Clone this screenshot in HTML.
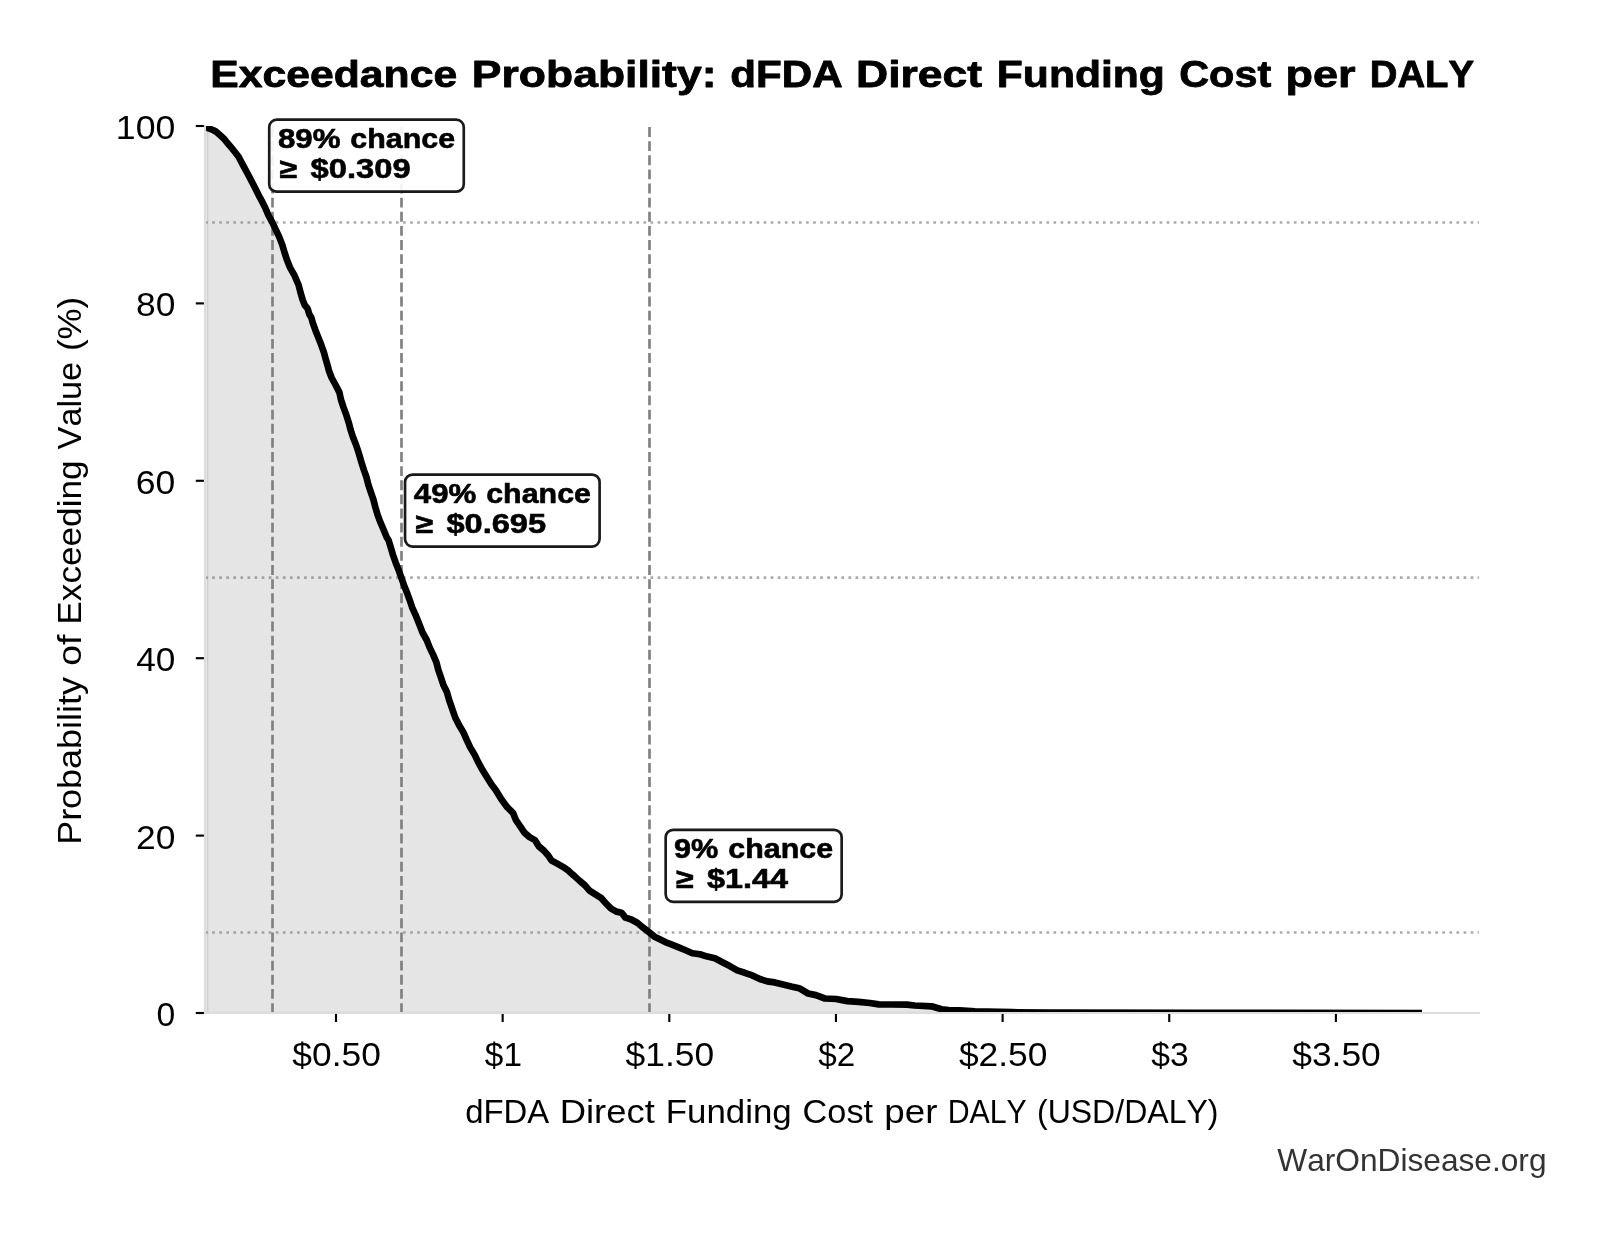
<!DOCTYPE html>
<html lang="en"><head><meta charset="utf-8"><title>Exceedance Probability: dFDA Direct Funding Cost per DALY</title>
<style>html,body{margin:0;padding:0;background:#fff;}body{width:1604px;height:1234px;overflow:hidden;}svg{display:block;will-change:transform;}text{font-family:"Liberation Sans",sans-serif;font-kerning:none;white-space:pre;}</style></head><body>
<svg width="1604" height="1234" viewBox="0 0 1604 1234">
<rect x="0" y="0" width="1604" height="1234" fill="#ffffff"/>
<defs><clipPath id="ax"><rect x="205.0" y="126.0" width="1273.90" height="887.00"/></clipPath></defs>
<g clip-path="url(#ax)">
<polygon points="207.1,1013.0 207.1,127.8 208.5,128.3 211.0,129.2 213.5,130.3 216.2,131.8 219.9,135.0 223.7,138.4 227.4,143.0 231.2,147.4 234.9,152.0 238.6,156.8 241.2,161.8 244.9,168.6 248.6,175.5 252.4,182.7 256.1,190.0 259.8,197.4 261.3,200.0 265.1,207.5 268.3,215.0 272.3,222.4 275.9,229.9 279.4,237.4 282.3,244.9 284.5,252.4 286.9,259.8 289.9,267.3 294.2,274.8 297.4,282.3 298.6,285.0 300.5,292.5 302.7,300.0 304.8,305.2 307.6,308.6 309.3,314.2 311.4,317.7 312.7,322.6 315.3,329.9 318.3,337.4 321.2,344.8 323.9,352.3 325.9,359.8 328.1,367.3 328.7,370.0 331.5,377.5 335.6,385.0 339.4,392.4 341.0,399.9 343.5,407.4 346.3,414.9 348.7,422.4 350.6,429.8 353.0,437.3 356.0,444.8 358.5,452.3 359.3,455.0 361.5,462.5 363.9,470.0 366.5,477.4 368.4,484.9 370.9,492.4 373.5,499.9 375.4,507.4 377.6,514.8 380.4,522.3 383.6,529.8 386.7,537.3 388.5,540.0 390.8,547.5 393.0,555.0 395.6,562.4 398.6,569.9 401.2,577.4 403.9,584.9 406.9,592.4 409.6,599.8 412.1,607.3 415.5,614.8 418.5,622.3 419.6,625.0 422.5,632.5 426.7,640.0 429.6,647.4 433.2,654.9 436.4,662.4 438.3,669.9 440.9,677.4 443.3,684.8 447.0,692.3 449.1,699.8 451.7,707.3 452.6,710.0 455.2,717.5 459.0,725.0 463.4,732.4 466.7,739.9 470.2,747.4 474.7,754.9 478.3,762.4 482.4,769.8 487.0,777.3 491.7,784.8 495.7,790.0 501.2,799.0 507.2,807.2 513.2,813.2 515.8,819.9 519.9,825.9 524.4,832.6 529.6,837.1 534.9,840.1 538.6,846.1 543.9,850.6 548.4,855.8 551.3,860.3 557.3,863.7 563.3,867.1 568.6,870.8 570.0,872.2 574.5,876.1 579.7,880.9 585.0,885.4 589.5,890.7 595.4,894.4 601.4,898.2 605.9,903.4 611.1,908.6 616.4,911.6 621.6,912.7 625.4,917.6 631.3,919.5 637.3,922.8 642.6,927.3 648.6,931.8 654.5,936.7 659.8,939.3 665.8,942.3 670.0,943.8 677.5,946.8 685.0,950.0 692.4,953.3 699.9,954.3 707.4,956.6 714.9,958.3 722.4,962.3 729.8,966.1 737.3,970.4 744.8,972.8 752.3,975.4 759.8,979.0 767.3,981.4 774.7,982.4 780.0,983.7 791.2,986.5 799.1,988.2 808.1,993.5 815.9,995.1 824.9,998.5 836.1,999.0 847.3,1001.1 858.6,1001.8 869.8,1003.0 878.8,1004.4 892.2,1004.5 906.8,1004.7 914.7,1005.5 931.5,1006.3 941.6,1009.3 948.5,1010.0 959.6,1010.3 975.0,1011.3 1012.0,1012.2 1050.0,1012.6 1200.0,1012.9 1422.0,1013.1 1422.0,1013.0" fill="#000" fill-opacity="0.1" stroke="#000" stroke-opacity="0.1" stroke-width="2.67" stroke-linejoin="miter"/>
<line x1="205.1" y1="222.5" x2="1478.9" y2="222.5" stroke="#808080" stroke-opacity="0.67" stroke-width="2.67" stroke-dasharray="2.67 4.4"/>
<line x1="205.1" y1="577.6" x2="1478.9" y2="577.6" stroke="#808080" stroke-opacity="0.67" stroke-width="2.67" stroke-dasharray="2.67 4.4"/>
<line x1="205.1" y1="932.5" x2="1478.9" y2="932.5" stroke="#808080" stroke-opacity="0.67" stroke-width="2.67" stroke-dasharray="2.67 4.4"/>
<line x1="272.5" y1="1013.0" x2="272.5" y2="126.0" stroke="#808080" stroke-width="2.67" stroke-dasharray="9.865 4.266"/>
<line x1="401.5" y1="1013.0" x2="401.5" y2="126.0" stroke="#808080" stroke-width="2.67" stroke-dasharray="9.865 4.266"/>
<line x1="649.5" y1="1013.0" x2="649.5" y2="126.0" stroke="#808080" stroke-width="2.67" stroke-dasharray="9.865 4.266"/>
<polyline points="203.0,127.2 206.0,127.4 208.5,128.3 211.0,129.2 213.5,130.3 216.2,131.8 219.9,135.0 223.7,138.4 227.4,143.0 231.2,147.4 234.9,152.0 238.6,156.8 241.2,161.8 244.9,168.6 248.6,175.5 252.4,182.7 256.1,190.0 259.8,197.4 261.3,200.0 265.1,207.5 268.3,215.0 272.3,222.4 275.9,229.9 279.4,237.4 282.3,244.9 284.5,252.4 286.9,259.8 289.9,267.3 294.2,274.8 297.4,282.3 298.6,285.0 300.5,292.5 302.7,300.0 304.8,305.2 307.6,308.6 309.3,314.2 311.4,317.7 312.7,322.6 315.3,329.9 318.3,337.4 321.2,344.8 323.9,352.3 325.9,359.8 328.1,367.3 328.7,370.0 331.5,377.5 335.6,385.0 339.4,392.4 341.0,399.9 343.5,407.4 346.3,414.9 348.7,422.4 350.6,429.8 353.0,437.3 356.0,444.8 358.5,452.3 359.3,455.0 361.5,462.5 363.9,470.0 366.5,477.4 368.4,484.9 370.9,492.4 373.5,499.9 375.4,507.4 377.6,514.8 380.4,522.3 383.6,529.8 386.7,537.3 388.5,540.0 390.8,547.5 393.0,555.0 395.6,562.4 398.6,569.9 401.2,577.4 403.9,584.9 406.9,592.4 409.6,599.8 412.1,607.3 415.5,614.8 418.5,622.3 419.6,625.0 422.5,632.5 426.7,640.0 429.6,647.4 433.2,654.9 436.4,662.4 438.3,669.9 440.9,677.4 443.3,684.8 447.0,692.3 449.1,699.8 451.7,707.3 452.6,710.0 455.2,717.5 459.0,725.0 463.4,732.4 466.7,739.9 470.2,747.4 474.7,754.9 478.3,762.4 482.4,769.8 487.0,777.3 491.7,784.8 495.7,790.0 501.2,799.0 507.2,807.2 513.2,813.2 515.8,819.9 519.9,825.9 524.4,832.6 529.6,837.1 534.9,840.1 538.6,846.1 543.9,850.6 548.4,855.8 551.3,860.3 557.3,863.7 563.3,867.1 568.6,870.8 570.0,872.2 574.5,876.1 579.7,880.9 585.0,885.4 589.5,890.7 595.4,894.4 601.4,898.2 605.9,903.4 611.1,908.6 616.4,911.6 621.6,912.7 625.4,917.6 631.3,919.5 637.3,922.8 642.6,927.3 648.6,931.8 654.5,936.7 659.8,939.3 665.8,942.3 670.0,943.8 677.5,946.8 685.0,950.0 692.4,953.3 699.9,954.3 707.4,956.6 714.9,958.3 722.4,962.3 729.8,966.1 737.3,970.4 744.8,972.8 752.3,975.4 759.8,979.0 767.3,981.4 774.7,982.4 780.0,983.7 791.2,986.5 799.1,988.2 808.1,993.5 815.9,995.1 824.9,998.5 836.1,999.0 847.3,1001.1 858.6,1001.8 869.8,1003.0 878.8,1004.4 892.2,1004.5 906.8,1004.7 914.7,1005.5 931.5,1006.3 941.6,1009.3 948.5,1010.0 959.6,1010.3 975.0,1011.3 1012.0,1012.2 1050.0,1012.6 1200.0,1012.9 1422.0,1013.1" fill="none" stroke="#000" stroke-width="6.7" stroke-linejoin="round" stroke-linecap="butt"/>
</g>
<line x1="205.0" y1="124.93" x2="205.0" y2="1014.07" stroke="#dddddd" stroke-width="2.13"/>
<line x1="203.93" y1="1013.0" x2="1479.97" y2="1013.0" stroke="#dddddd" stroke-width="2.13"/>
<line x1="336.0" y1="1014.0" x2="336.0" y2="1022.0" stroke="#000" stroke-width="2.13"/>
<line x1="502.65" y1="1014.0" x2="502.65" y2="1022.0" stroke="#000" stroke-width="2.13"/>
<line x1="669.3" y1="1014.0" x2="669.3" y2="1022.0" stroke="#000" stroke-width="2.13"/>
<line x1="835.95" y1="1014.0" x2="835.95" y2="1022.0" stroke="#000" stroke-width="2.13"/>
<line x1="1002.6" y1="1014.0" x2="1002.6" y2="1022.0" stroke="#000" stroke-width="2.13"/>
<line x1="1169.25" y1="1014.0" x2="1169.25" y2="1022.0" stroke="#000" stroke-width="2.13"/>
<line x1="1335.9" y1="1014.0" x2="1335.9" y2="1022.0" stroke="#000" stroke-width="2.13"/>
<line x1="195.8" y1="1013.0" x2="203.9" y2="1013.0" stroke="#000" stroke-width="2.13"/>
<line x1="195.8" y1="835.6" x2="203.9" y2="835.6" stroke="#000" stroke-width="2.13"/>
<line x1="195.8" y1="658.2" x2="203.9" y2="658.2" stroke="#000" stroke-width="2.13"/>
<line x1="195.8" y1="480.8" x2="203.9" y2="480.8" stroke="#000" stroke-width="2.13"/>
<line x1="195.8" y1="303.4" x2="203.9" y2="303.4" stroke="#000" stroke-width="2.13"/>
<line x1="195.8" y1="126.0" x2="203.9" y2="126.0" stroke="#000" stroke-width="2.13"/>
<g font-size="34.1" font-weight="normal" fill="#000" aria-label="$0.50"><text transform="translate(292.31,1065.80) scale(1.0382,1)">$0.50</text></g>
<g font-size="34.1" font-weight="normal" fill="#000" aria-label="$1"><text transform="translate(484.84,1065.80) scale(0.9780,1)">$1</text></g>
<g font-size="34.1" font-weight="normal" fill="#000" aria-label="$1.50"><text transform="translate(625.61,1065.80) scale(1.0382,1)">$1.50</text></g>
<g font-size="34.1" font-weight="normal" fill="#000" aria-label="$2"><text transform="translate(818.26,1065.80) scale(0.9724,1)">$2</text></g>
<g font-size="34.1" font-weight="normal" fill="#000" aria-label="$2.50"><text transform="translate(958.91,1065.80) scale(1.0382,1)">$2.50</text></g>
<g font-size="34.1" font-weight="normal" fill="#000" aria-label="$3"><text transform="translate(1151.24,1065.80) scale(0.9843,1)">$3</text></g>
<g font-size="34.1" font-weight="normal" fill="#000" aria-label="$3.50"><text transform="translate(1292.21,1065.80) scale(1.0382,1)">$3.50</text></g>
<g font-size="34.1" font-weight="normal" fill="#000" aria-label="0"><text transform="translate(156.56,1025.95) scale(0.9892,1)">0</text></g>
<g font-size="34.1" font-weight="normal" fill="#000" aria-label="20"><text transform="translate(135.97,848.55) scale(1.0392,1)">20</text></g>
<g font-size="34.1" font-weight="normal" fill="#000" aria-label="40"><text transform="translate(136.16,671.15) scale(1.0340,1)">40</text></g>
<g font-size="34.1" font-weight="normal" fill="#000" aria-label="60"><text transform="translate(135.83,493.75) scale(1.0428,1)">60</text></g>
<g font-size="34.1" font-weight="normal" fill="#000" aria-label="80"><text transform="translate(136.04,316.35) scale(1.0372,1)">80</text></g>
<g font-size="34.1" font-weight="normal" fill="#000" aria-label="100"><text transform="translate(115.84,138.95) scale(1.0467,1)">100</text></g>
<g font-size="37.5" font-weight="bold" fill="#000" stroke="#000" stroke-width="0.8" stroke-linejoin="round" aria-label="Exceedance Probability: dFDA Direct Funding Cost per DALY"><text transform="translate(210.34,86.60) scale(1.1387,1)">Exceedance</text><text transform="translate(471.86,86.60) scale(1.1865,1)">Probability:</text><text transform="translate(730.25,86.60) scale(1.1246,1)">dFDA</text><text transform="translate(856.02,86.60) scale(1.1862,1)">Direct</text><text transform="translate(996.82,86.60) scale(1.1374,1)">Funding</text><text transform="translate(1179.26,86.60) scale(1.1030,1)">Cost</text><text transform="translate(1285.52,86.60) scale(1.2021,1)">per</text><text transform="translate(1369.78,86.60) scale(1.0221,1)">DALY</text></g>
<g font-size="33.4" font-weight="normal" fill="#000" aria-label="dFDA Direct Funding Cost per DALY (USD/DALY)"><text transform="translate(465.22,1122.75) scale(0.9841,1)">dFDA</text><text transform="translate(559.75,1122.75) scale(1.0900,1)">Direct</text><text transform="translate(665.76,1122.75) scale(1.0435,1)">Funding</text><text transform="translate(802.59,1122.75) scale(1.0266,1)">Cost</text><text transform="translate(884.30,1122.75) scale(1.1017,1)">per</text><text transform="translate(947.69,1122.75) scale(0.9065,1)">DALY</text><text transform="translate(1036.97,1122.75) scale(0.9589,1)">(USD/DALY)</text></g>
<g font-size="33.4" font-weight="normal" fill="#000" aria-label="Probability of Exceeding Value (%)"><text transform="translate(81.00,844.85) rotate(-90) scale(1.0769,1)">Probability</text><text transform="translate(81.00,665.68) rotate(-90) scale(1.1192,1)">of</text><text transform="translate(81.00,624.65) rotate(-90) scale(1.0535,1)">Exceeding</text><text transform="translate(81.00,449.43) rotate(-90) scale(1.0244,1)">Value</text><text transform="translate(81.00,350.99) rotate(-90) scale(1.0424,1)">(%)</text></g>
<g font-size="30.65" font-weight="normal" fill="#333333" aria-label="WarOnDisease.org"><text transform="translate(1277.26,1170.50) scale(1.0336,1)">WarOnDisease.org</text></g>
<rect x="269.22" y="119.65" width="194.55" height="72.0" rx="7.5" ry="7.5" fill="#fff" fill-opacity="0.9" stroke="#1a1a1a" stroke-width="2.67"/>
<g font-size="27.5" font-weight="bold" fill="#000" stroke="#000" stroke-width="0.6" stroke-linejoin="round" aria-label="89% chance"><text transform="translate(277.91,147.70) scale(1.1370,1)">89%</text><text transform="translate(350.35,147.70) scale(1.1065,1)">chance</text></g>
<g font-size="27.5" font-weight="bold" fill="#000" stroke="#000" stroke-width="0.6" stroke-linejoin="round" aria-label="≥ $0.309"><text transform="translate(279.33,177.85) scale(1.1682,1)">≥</text><text transform="translate(310.55,177.85) scale(1.1910,1)">$0.309</text></g>
<rect x="405.05" y="474.55" width="194.55" height="72.0" rx="7.5" ry="7.5" fill="#fff" fill-opacity="0.9" stroke="#1a1a1a" stroke-width="2.67"/>
<g font-size="27.5" font-weight="bold" fill="#000" stroke="#000" stroke-width="0.6" stroke-linejoin="round" aria-label="49% chance"><text transform="translate(413.83,502.60) scale(1.1353,1)">49%</text><text transform="translate(486.18,502.60) scale(1.1065,1)">chance</text></g>
<g font-size="27.5" font-weight="bold" fill="#000" stroke="#000" stroke-width="0.6" stroke-linejoin="round" aria-label="≥ $0.695"><text transform="translate(415.16,532.75) scale(1.1682,1)">≥</text><text transform="translate(446.39,532.75) scale(1.1854,1)">$0.695</text></g>
<rect x="665.67" y="829.85" width="175.99" height="72.0" rx="7.5" ry="7.5" fill="#fff" fill-opacity="0.9" stroke="#1a1a1a" stroke-width="2.67"/>
<g font-size="27.5" font-weight="bold" fill="#000" stroke="#000" stroke-width="0.6" stroke-linejoin="round" aria-label="9% chance"><text transform="translate(674.04,857.90) scale(1.1152,1)">9%</text><text transform="translate(728.24,857.90) scale(1.1065,1)">chance</text></g>
<g font-size="27.5" font-weight="bold" fill="#000" stroke="#000" stroke-width="0.6" stroke-linejoin="round" aria-label="≥ $1.44"><text transform="translate(675.78,888.05) scale(1.1682,1)">≥</text><text transform="translate(707.01,888.05) scale(1.1778,1)">$1.44</text></g>
</svg></body></html>
